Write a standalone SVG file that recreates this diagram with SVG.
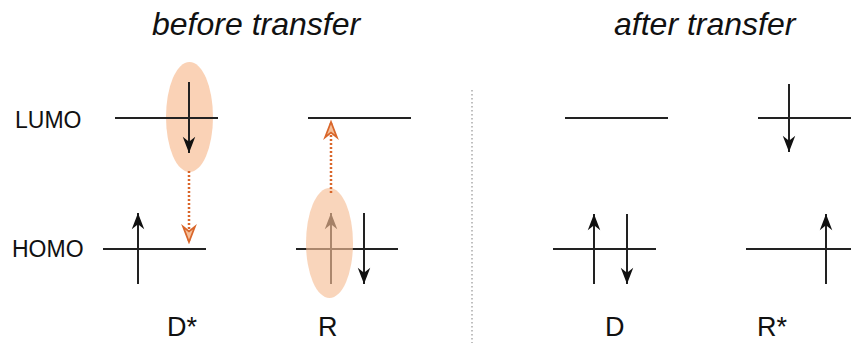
<svg xmlns="http://www.w3.org/2000/svg" width="851" height="343" viewBox="0 0 851 343">
<style>
.lvl{stroke:#222;stroke-width:2;fill:none}
.spin{stroke:#222;stroke-width:2;fill:none}
.up{marker-end:url(#ah)}
.xfer{stroke:#d9662a;stroke-width:2.5;stroke-dasharray:2 2;fill:none;marker-end:url(#oh)}
.lobe{fill:#fad2b6}
.lobe-over{fill:#f6bf97;opacity:0.65}
.title{font-family:"Liberation Sans",Arial,sans-serif;font-style:italic;font-size:32px;fill:#111}
.lab{font-family:"Liberation Sans",Arial,sans-serif;font-size:23px;fill:#111}
.mol{font-family:"Liberation Sans",Arial,sans-serif;font-size:27px;fill:#111}
.div{stroke:#aaa;stroke-width:1.5;stroke-dasharray:1.5 2.5}
</style>
<defs>
<marker id="ah" markerUnits="userSpaceOnUse" markerWidth="20" markerHeight="20" viewBox="-14 -7 16 14" refX="0" refY="0" orient="auto">
<path d="M0,0 L-13,-5 L-9,0 L-13,5 Z" fill="#111"/>
</marker>
<marker id="oh" markerUnits="userSpaceOnUse" markerWidth="20" markerHeight="20" viewBox="-15 -8 17 16" refX="0" refY="0" orient="auto">
<path d="M0,0 L-13,-5 L-9,0 L-13,5 Z" fill="#f6c09a" stroke="#d9662a" stroke-width="1.5" stroke-linejoin="miter"/>
</marker>
</defs>
<rect width="851" height="343" fill="#fff"/>
<text class="title" x="152" y="35">before transfer</text>
<text class="title" x="614" y="35">after transfer</text>
<text class="lab" x="15" y="128">LUMO</text>
<text class="lab" x="12" y="257">HOMO</text>
<line class="div" x1="472" y1="90" x2="472" y2="343"/>
<g id="Dstar">
<ellipse class="lobe" cx="189.5" cy="117" rx="23.5" ry="55"/>
<line class="lvl" x1="115" y1="118" x2="218" y2="118"/>
<line class="spin up" x1="189" y1="82" x2="189" y2="153"/>
<line class="lvl" x1="103" y1="249" x2="206" y2="249"/>
<line class="spin up" x1="138" y1="284" x2="138" y2="213"/>
<text class="mol" x="167" y="336">D*</text>
</g>
<g id="R">
<line class="lvl" x1="308" y1="118" x2="411" y2="118"/>
<line class="lvl" x1="296" y1="249" x2="398" y2="249"/>
<line class="spin up" x1="331" y1="284" x2="331" y2="213"/>
<line class="spin up" x1="364" y1="213" x2="364" y2="284"/>
<ellipse class="lobe-over" cx="329.5" cy="243" rx="23.5" ry="55"/>
<text class="mol" x="318" y="336">R</text>
</g>
<g id="D">
<line class="lvl" x1="565" y1="118" x2="668" y2="118"/>
<line class="lvl" x1="553" y1="249" x2="656" y2="249"/>
<line class="spin up" x1="594" y1="284" x2="594" y2="214"/>
<line class="spin up" x1="627" y1="214" x2="627" y2="284"/>
<text class="mol" x="605" y="336">D</text>
</g>
<g id="Rstar">
<line class="lvl" x1="758" y1="118" x2="862" y2="118"/>
<line class="spin up" x1="789" y1="84" x2="789" y2="152"/>
<line class="lvl" x1="746" y1="249" x2="851" y2="249"/>
<line class="spin up" x1="826" y1="284" x2="826" y2="214"/>
<text class="mol" x="757" y="336">R*</text>
</g>
<g id="connectors">
<line class="xfer" x1="189" y1="171" x2="189" y2="242"/>
<line class="xfer" x1="331" y1="193" x2="331" y2="122"/>
</g>
</svg>
